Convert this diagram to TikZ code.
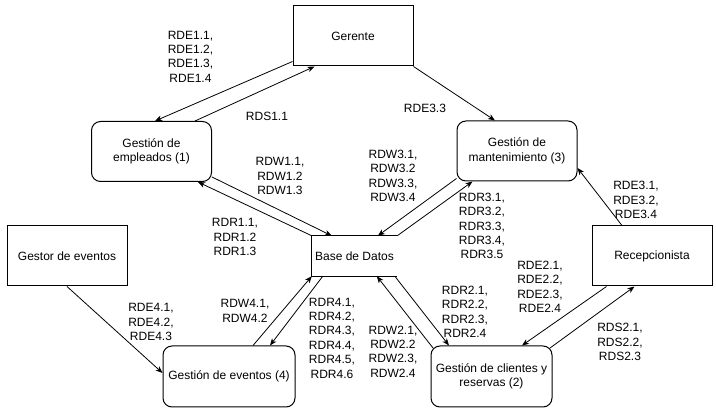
\documentclass[tikz,border=0pt]{standalone}
\usepackage{fontspec}
\setmainfont{Liberation Sans}
\usetikzlibrary{arrows.meta,calc}
\begin{document}
\begin{tikzpicture}[x=1pt,y=-1pt,
  every node/.style={font=\fontsize{12}{14.4}\selectfont},
  ent/.style={draw,line width=1pt,minimum width=120pt,minimum height=60pt,inner sep=0pt,align=center},
  proc/.style={ent,rounded corners=9pt},
  store/.style={minimum width=85pt,minimum height=40pt,inner sep=0pt},
  lab/.style={align=center,inner sep=0pt},
  flow/.style={line width=0.8pt,-{Stealth[length=7pt,width=5.5pt,inset=2pt]}}]
\fill[white] (0,0) rectangle (716,411);
\useasboundingbox (0,0) rectangle (716,411);
% entities
\node[ent] (G) at (353,36) {Gerente};
\node[ent] (R) at (652,256) {Recepcionista};
\node[ent] (Gv) at (67,256) {Gestor de eventos};
% processes
\node[proc] (E) at (151.5,151.5) {Gestión de\\empleados (1)};
\node[proc] (M) at (517,151) {Gestión de\\mantenimiento (3)};
\node[proc,minimum width=132pt,minimum height=61pt] (Ev) at (229,376.5) {Gestión de eventos (4)};
\node[proc,minimum width=121pt,minimum height=61pt] (C) at (491.5,376.5) {Gestión de clientes y\\reservas (2)};
% data store
\node[store] (B) at (354.5,256) {Base de Datos};
\draw[line width=1pt] (B.north east) -- (B.north west) -- (B.south west) -- (B.south east);
% flows
\draw[flow] ([yshift=5pt]G.south west) -- ([xshift=3.5pt]E.north);
\draw[flow] ([xshift=43.5pt]E.north) -- ([xshift=22pt]G.south west);
\draw[flow] (G.south east) -- ([xshift=-22pt]M.north);
\draw[flow] (B.north west) -- ([xshift=46.5pt]E.south);
\draw[flow] ([yshift=5pt]E.south east) -- ([xshift=20pt]B.north west);
\draw[flow] ([yshift=3pt]M.south west) -- ([xshift=66pt]B.north west);
\draw[flow] (B.north east) -- ([xshift=16pt]M.south west);
\draw[flow] ([xshift=-30pt]R.north) -- ([yshift=-17pt]M.east);
\draw[flow] (Gv.south) -- ([yshift=3.5pt]Ev.west);
\draw[flow] ([xshift=24pt]Ev.north) -- (B.south west);
\draw[flow] ([xshift=11pt]B.south west) -- ([xshift=41pt]Ev.north);
\draw[flow] ([xshift=2.6pt,yshift=-2.6pt]C.north west) -- ([xshift=65pt]B.south west);
\draw[flow] ([xshift=83pt]B.south west) -- ([xshift=-42.5pt]C.north);
\draw[flow] ([xshift=15pt]R.south west) -- ([xshift=30.5pt]C.north);
\draw[flow] ([xshift=-2.6pt,yshift=-2.6pt]C.north east) -- ([xshift=43pt]R.south west);
% labels
\node[lab] (lE1) at (190.5,56.5) {RDE1.1,\\RDE1.2,\\RDE1.3,\\RDE1.4};
\node[lab] (lS1) at (267,116) {RDS1.1};
\node[lab] (lE33) at (425,108) {RDE3.3};
\node[lab] (lW1) at (280,176) {RDW1.1,\\RDW1.2\\RDW1.3};
\node[lab] (lW3) at (393,176) {RDW3.1,\\RDW3.2\\RDW3.3,\\RDW3.4};
\node[lab] (lR3) at (482,226) {RDR3.1,\\RDR3.2,\\RDR3.3,\\RDR3.4,\\RDR3.5};
\node[lab] (lE3) at (636,200) {RDE3.1,\\RDE3.2,\\RDE3.4};
\node[lab] (lR1) at (235,237) {RDR1.1,\\RDR1.2\\RDR1.3};
\node[lab] (lE4) at (151,322) {RDE4.1,\\RDE4.2,\\RDE4.3};
\node[lab] (lW4) at (245,311) {RDW4.1,\\RDW4.2};
\node[lab] (lR4) at (332,338) {RDR4.1,\\RDR4.2,\\RDR4.3,\\RDR4.4,\\RDR4.5,\\RDR4.6};
\node[lab] (lW2) at (393,351.5) {RDW2.1,\\RDW2.2\\RDW2.3,\\RDW2.4};
\node[lab] (lR2) at (465,312) {RDR2.1,\\RDR2.2,\\RDR2.3,\\RDR2.4};
\node[lab] (lE2) at (540,287) {RDE2.1,\\RDE2.2,\\RDE2.3,\\RDE2.4};
\node[lab] (lS2) at (620,342) {RDS2.1,\\RDS2.2,\\RDS2.3};
\end{tikzpicture}
\end{document}
